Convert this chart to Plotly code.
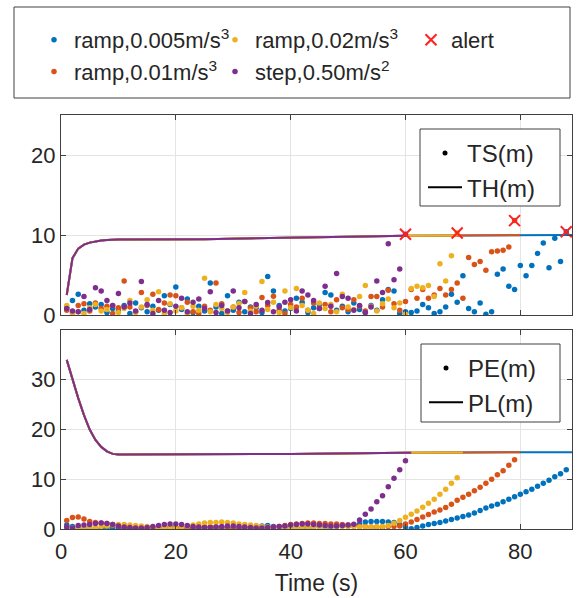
import plotly.graph_objects as go

# ---------------- data ----------------
t_blue = list(range(1, 89))     # 1..88
t_orange = list(range(1, 80))   # 1..79
t_yellow = list(range(1, 70))   # 1..69
t_purple = list(range(1, 61))   # 1..60

ts_blue = [0.9, 1.8, 2.6, 0.6, 1.4, 1.0, 1.3, 0.3, 0.8, 0.5,
           1.2, 0.2, 1.5, 0.9, 0.4, 1.1, 0.6, 2.4, 1.3, 3.5,
           0.7, 2.0, 0.3, 1.1, 0.5, 4.0, 1.0, 0.2, 2.4, 0.6,
           1.6, 0.4, 1.0, 0.9, 0.3, 4.8, 3.0, 1.2, 0.5, 0.8,
           2.1, 1.6, 0.3, 0.9, 1.3, 2.8, 2.5, 0.6, 1.1, 0.4,
           1.5, 0.7, 0.3, 1.2, 0.6, 1.9, 3.2, 3.0, 0.2, 0.4,
           0.3, 0.5, 1.3, 0.9, 0.2, 0.4, 1.0, 2.6, 1.6, 4.9,
           0.8, 0.4, 1.5, 0.1, 0.4, 5.1, 5.75, 3.6, 3.2, 6.2,
           4.9, 6.2, 7.7, 9.0, 5.9, 9.6, 6.7, 10.4]
ts_orange = [0.6, 0.3, 1.2, 1.4, 0.5, 1.5, 0.8, 1.1, 0.2, 0.9,
             4.25, 1.0, 0.4, 2.8, 1.2, 2.6, 0.7, 1.5, 2.5, 2.4,
             0.9, 1.6, 0.4, 0.2, 1.1, 0.6, 4.0, 1.4, 0.5, 1.0,
             0.3, 1.7, 0.9, 0.4, 2.2, 1.2, 2.35, 0.6, 0.2, 1.3,
             1.0, 2.1, 0.6, 1.5, 0.8, 1.3, 0.4, 1.9, 0.9, 0.7,
             1.9, 1.1, 0.5, 2.3, 2.3, 1.0, 3.1, 1.4, 0.6, 1.7,
             3.2, 2.1, 3.2, 2.1, 2.5, 3.3, 2.5, 3.2, 4.0, 2.1,
             7.2, 6.3, 6.7, 5.6, 7.9, 8.0, 8.1, 8.5, 11.8]
ts_yellow = [1.2, 0.1, 0.4, 0.2, 0.9, 1.3, 0.5, 0.7, 1.2, 0.3,
             0.8, 1.8, 0.3, 1.0, 1.9, 0.6, 2.9, 0.2, 1.4, 0.5,
             0.9, 0.2, 1.1, 0.6, 4.6, 0.4, 1.3, 0.8, 0.3, 1.0,
             1.45, 2.8, 0.5, 1.1, 4.2, 0.7, 1.6, 0.3, 3.0, 0.9,
             3.3, 1.2, 0.6, 0.2, 1.5, 0.8, 1.3, 0.4, 2.6, 1.0,
             0.7, 2.3, 3.7, 1.1, 0.5, 1.4, 2.0, 0.9, 1.5, 0.1,
             3.3, 3.6, 3.4, 3.7, 2.3, 6.4, 4.25, 7.4, 10.25]
ts_purple = [0.8, 0.5, 0.4, 2.3, 0.7, 3.4, 3.0, 1.8, 1.2, 2.7,
             1.0, 1.5, 0.5, 4.2, 1.3, 0.2, 1.8, 0.6, 0.3, 1.1,
             2.1, 0.4, 1.6, 2.0, 0.8, 2.9, 0.3, 1.2, 0.5, 3.0,
             0.9, 1.7, 0.2, 1.3, 0.6, 1.55, 0.4, 1.0, 1.6, 1.9,
             0.5, 3.0, 2.5, 1.8, 0.8, 3.6, 1.1, 5.2, 2.3, 2.1,
             0.6, 1.2, 0.3, 1.0, 4.25, 2.8, 8.9, 4.4, 5.75, 10.1]

pe_blue = [0.8, 0.5, 0.3, 0.1, 0.2, 0.0, 0.1, 0.2, 0.3, 0.2,
           0.1, 0.2, 0.1, 0.2, 0.3, 0.2, 0.2, 0.3, 0.4, 0.3,
           0.3, 0.2, 0.2, 0.3, 0.3, 0.4, 0.4, 0.3, 0.3, 0.2,
           0.2, 0.3, 0.3, 0.4, 0.6, 0.7, 0.5, 0.4, 0.3, 0.3,
           0.2, 0.3, 0.3, 0.4, 0.5, 0.4, 0.4, 0.5, 0.6, 0.6,
           0.8, 1.0, 1.4, 1.5, 1.5, 1.5, 1.4, 1.3, 0.9, 0.4,
           0.05, 0.3, 0.6, 0.9, 1.1, 1.3, 1.6, 1.9, 2.2, 2.5,
           2.8, 3.2, 3.7, 4.2, 4.6, 5.0, 5.5, 6.0, 6.5, 7.0,
           7.5, 8.0, 8.6, 9.2, 9.8, 10.5, 11.1, 11.9]
pe_orange = [1.7, 2.3, 2.4, 2.0, 1.5, 1.3, 1.2, 1.1, 0.9, 0.6,
             0.4, 0.3, 0.3, 0.2, 0.2, 0.3, 0.3, 0.2, 0.2, 0.3,
             0.3, 0.2, 0.2, 0.3, 0.4, 0.4, 0.3, 0.3, 0.2, 0.2,
             0.2, 0.3, 0.3, 0.2, 0.2, 0.3, 0.4, 0.5, 0.7, 0.9,
             1.0, 1.1, 1.2, 1.2, 1.1, 1.1, 1.0, 1.0, 0.9, 0.8,
             0.6, 0.5, 0.5, 0.4, 0.4, 0.4, 0.5, 0.5, 0.6, 1.0,
             1.4, 1.9, 2.4, 2.9, 3.4, 3.8, 4.3, 5.0, 5.8, 6.4,
             7.0, 7.7, 8.4, 9.2, 10.0, 10.9, 11.7, 12.8, 13.9]
pe_yellow = [0.3, 0.2, 0.1, 0.2, 0.2, 0.3, 0.5, 0.6, 0.8, 0.9,
             0.9, 0.8, 0.7, 0.6, 0.5, 0.4, 0.3, 0.3, 0.2, 0.2,
             0.4, 0.6, 0.8, 1.0, 1.2, 1.3, 1.3, 1.4, 1.3, 1.2,
             1.0, 0.9, 0.8, 0.7, 0.5, 0.4, 0.3, 0.3, 0.2, 0.2,
             0.2, 0.3, 0.3, 0.4, 0.4, 0.5, 0.5, 0.5, 0.5, 0.5,
             0.5, 0.4, 0.4, 0.4, 0.5, 0.5, 0.7, 1.15, 1.7, 2.35,
             2.95, 3.6, 4.35, 5.2, 6.0, 7.0, 8.0, 9.2, 10.3]
pe_purple = [0.4, 0.2, 0.7, 0.8, 0.9, 1.1, 1.2, 1.1, 0.9, 0.6,
             0.4, 0.3, 0.2, 0.2, 0.3, 0.5, 0.7, 0.9, 1.0, 1.0,
             0.9, 0.7, 0.5, 0.4, 0.3, 0.3, 0.4, 0.5, 0.6, 0.6,
             0.5, 0.4, 0.3, 0.2, 0.2, 0.3, 0.4, 0.5, 0.6, 0.8,
             0.9, 1.0, 1.0, 0.9, 0.8, 0.7, 0.6, 0.6, 0.7, 0.8,
             0.95, 1.8, 2.95, 4.0, 5.5, 6.7, 8.5, 10.2, 11.9, 13.7]

# threshold (TH) and protection level (PL) curves: breakpoints
th_time = [1, 2, 3, 4, 5, 6, 7, 8, 9, 10, 25, 40, 50, 60, 69, 80, 89]
th_vals = [2.5, 7.1, 8.3, 8.8, 9.05, 9.2, 9.3, 9.38, 9.43, 9.45, 9.48, 9.62, 9.78, 9.92, 9.95, 9.98, 10.0]
pl_time = [1, 2, 3, 4, 5, 6, 7, 8, 9, 10, 20, 40, 60, 61, 70, 80, 89]
pl_vals = [34.0, 30.0, 26.3, 22.9, 20.0, 17.9, 16.5, 15.6, 15.1, 15.0, 15.0, 15.1, 15.35, 15.35, 15.4, 15.45, 15.45]

# alert epochs
alert_t = [60, 69, 79, 88]
alert_v = [10.1, 10.25, 11.8, 10.4]

names = ["ramp,0.005m/s<sup>3</sup>", "ramp,0.01m/s<sup>3</sup>",
         "ramp,0.02m/s<sup>3</sup>", "step,0.50m/s<sup>2</sup>"]
colors = ["#0072BD", "#D95319", "#EDB120", "#7E2F8E"]
times = [t_blue, t_orange, t_yellow, t_purple]
ts_all = [ts_blue, ts_orange, ts_yellow, ts_purple]
pe_all = [pe_blue, pe_orange, pe_yellow, pe_purple]
th_end = [89, 80, 69, 60]
pl_end = [89, 80, 70, 61]
legend_col = ["legend", "legend", "legend4", "legend4"]

fig = go.Figure()

for i in range(4):
    tt = [t for t in th_time if t <= th_end[i]]
    tv = th_vals[:len(tt)]
    fig.add_trace(go.Scatter(x=tt, y=tv, mode="lines", line=dict(color=colors[i], width=2),
                             xaxis="x", yaxis="y", showlegend=False, hoverinfo="skip"))
    pt = [t for t in pl_time if t <= pl_end[i]]
    pv = pl_vals[:len(pt)]
    fig.add_trace(go.Scatter(x=pt, y=pv, mode="lines", line=dict(color=colors[i], width=2),
                             xaxis="x2", yaxis="y2", showlegend=False, hoverinfo="skip"))

for i in range(4):
    fig.add_trace(go.Scatter(x=times[i], y=ts_all[i], mode="markers", name=names[i],
                             marker=dict(color=colors[i], size=5.5), xaxis="x", yaxis="y",
                             legend=legend_col[i]))
    fig.add_trace(go.Scatter(x=times[i], y=pe_all[i], mode="markers",
                             marker=dict(color=colors[i], size=5.5), xaxis="x2", yaxis="y2",
                             showlegend=False))

fig.add_trace(go.Scatter(x=alert_t, y=alert_v, mode="markers", name="alert",
                         marker=dict(symbol="x-thin", size=11, color="#FF2020",
                                     line=dict(color="#FF2020", width=2)),
                         xaxis="x", yaxis="y", legend="legend5"))

# inner legends (style keys)
fig.add_trace(go.Scatter(x=[None], y=[None], mode="markers", name="TS(m)",
                         marker=dict(color="black", size=5), xaxis="x", yaxis="y", legend="legend2"))
fig.add_trace(go.Scatter(x=[None], y=[None], mode="lines", name="TH(m)",
                         line=dict(color="black", width=2), xaxis="x", yaxis="y", legend="legend2"))
fig.add_trace(go.Scatter(x=[None], y=[None], mode="markers", name="PE(m)",
                         marker=dict(color="black", size=5), xaxis="x2", yaxis="y2", legend="legend3"))
fig.add_trace(go.Scatter(x=[None], y=[None], mode="lines", name="PL(m)",
                         line=dict(color="black", width=2), xaxis="x2", yaxis="y2", legend="legend3"))

L, R, T, B = 61, 7, 115, 69
W, H = 579, 598
pw, ph = W - L - R, H - T - B


def px(x):
    return (x - L) / pw


def py(y):
    return (H - B - y) / ph


axis_common = dict(showline=True, linecolor="#404040", linewidth=1, mirror="ticks",
                   ticks="inside", ticklen=5, tickcolor="#404040", showgrid=True,
                   gridcolor="#e4e4e4", zeroline=False,
                   tickfont=dict(size=22, color="#262626"))

shapes = []
for (x0, y0, x1, y1) in [(14, 7, 570, 98), (420, 129, 560, 206), (421, 344, 560, 422)]:
    shapes.append(dict(type="rect", xref="paper", yref="paper", x0=px(x0), x1=px(x1),
                       y0=py(y1), y1=py(y0), line=dict(color="#404040", width=1),
                       fillcolor="white", layer="above"))

top_leg = dict(yanchor="top", xanchor="left", traceorder="normal", tracegroupgap=0,
               font=dict(size=22, color="#262626"), bgcolor="rgba(0,0,0,0)", borderwidth=0)

fig.update_layout(
    width=W, height=H,
    margin=dict(l=L, r=R, t=T, b=B),
    paper_bgcolor="white", plot_bgcolor="white",
    font=dict(family="Liberation Sans, Arial, sans-serif", size=22, color="#262626"),
    xaxis=dict(domain=[0, 1], anchor="y", range=[0, 89], tickvals=[0, 20, 40, 60, 80],
               showticklabels=False, **axis_common),
    yaxis=dict(domain=[py(315), 1], anchor="x", range=[0, 25], tickvals=[0, 10, 20], **axis_common),
    xaxis2=dict(domain=[0, 1], anchor="y2", range=[0, 89], tickvals=[0, 20, 40, 60, 80],
                ticklabelstandoff=3,
                title=dict(text="Time (s)", font=dict(size=23), standoff=11), **axis_common),
    yaxis2=dict(domain=[0, py(330)], anchor="x2", range=[0, 40], tickvals=[0, 10, 20, 30], **axis_common),
    shapes=shapes,
    legend=dict(x=px(34), y=py(19), **top_leg),
    legend4=dict(x=px(215), y=py(19), **top_leg),
    legend5=dict(x=px(411), y=py(19), **top_leg),
    legend2=dict(x=px(423), y=py(131), xanchor="left", yanchor="top", itemwidth=34,
                 font=dict(size=24, color="#262626"), bgcolor="rgba(0,0,0,0)", borderwidth=0),
    legend3=dict(x=px(424), y=py(346), xanchor="left", yanchor="top", itemwidth=34,
                 tracegroupgap=0,
                 font=dict(size=24, color="#262626"), bgcolor="rgba(0,0,0,0)", borderwidth=0),
)

fig.write_html("out.html")
